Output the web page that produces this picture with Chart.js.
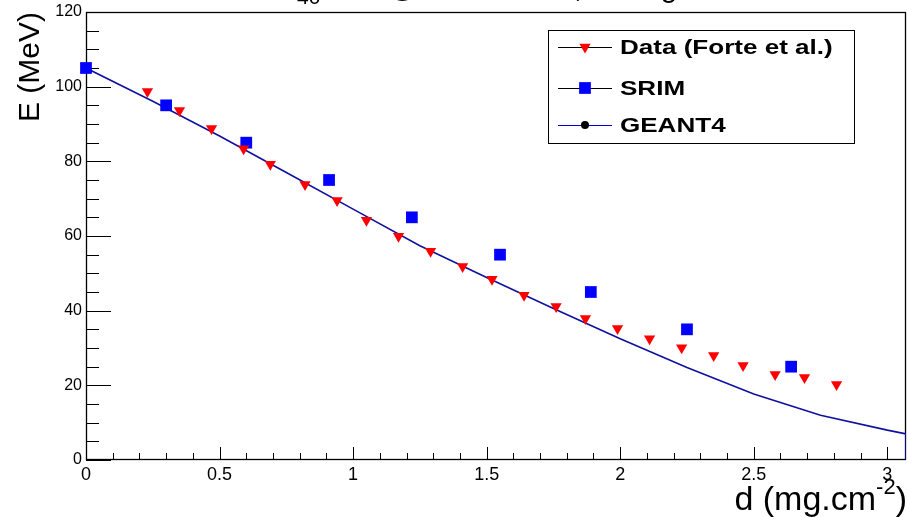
<!DOCTYPE html>
<html>
<head>
<meta charset="utf-8">
<script src="https://cdn.jsdelivr.net/npm/chart.js@4/dist/chart.umd.min.js"></script>
<style>
  html, body { margin: 0; padding: 0; background: #fff; }
</style>
</head>
<body>
<canvas id="c" width="908" height="517"></canvas>
<script>
const seriesNames = ['Data (Forte et al.)', 'SRIM', 'GEANT4']

// measured points (d in mg/cm2, E in MeV)
const dataD = [0.23, 0.35, 0.47, 0.59, 0.69, 0.82, 0.94, 1.05, 1.17, 1.29, 1.41, 1.52,
  1.64, 1.76, 1.87, 1.99, 2.11, 2.23, 2.35, 2.46, 2.58, 2.69, 2.81]
const dataE = [98.7, 93.6, 88.8, 83.4, 79.2, 73.8, 69.5, 64.2, 59.9, 55.9, 51.8, 48.4,
  44.1, 41.1, 37.9, 35.2, 32.5, 30.1, 28.0, 25.3, 22.9, 22.1, 20.2]

const srimD = [0, 0.30, 0.60, 0.91, 1.22, 1.55, 1.89, 2.25, 2.64]
const srimE = [105, 95, 85, 75, 65, 55, 45, 35, 25]

const geantD = [0, 0.25, 0.5, 0.75, 1.0, 1.25, 1.5, 1.75, 2.0, 2.25, 2.5, 2.75, 3.0, 3.07, 3.07]
const geantE = [105, 96.1, 86.8, 77.0, 67.2, 57.4, 48.9, 40.6, 32.5, 24.8, 17.7, 12.0, 8.0, 7.0, 0]

const xTicks = [0, 0.5, 1, 1.5, 2, 2.5, 3]
const yTicks = [0, 20, 40, 60, 80, 100, 120]
const xMinor = 0.1
const yMinor = 5

const FONT = 'Liberation Sans, Arial, sans-serif'
Chart.defaults.font.family = FONT
Chart.defaults.color = '#000'

const toPoints = (xs, ys) => xs.map((x, i) => ({ x: x, y: ys[i] }))

// ROOT style frame with ticks pointing inwards
const frame = {
  id: 'frame',
  beforeDatasetsDraw(chart) {
    const { ctx, chartArea: a, scales: { x, y } } = chart
    ctx.save()
    ctx.strokeStyle = '#000'
    ctx.lineWidth = 1
    ctx.beginPath()
    const xr = Math.round((xTicks[1] - xTicks[0]) / xMinor)
    for (let i = 0; i * xMinor <= x.max + 1e-9; i++) {
      const px = Math.round(x.getPixelForValue(i * xMinor)) + 0.5
      ctx.moveTo(px, a.bottom)
      ctx.lineTo(px, a.bottom - (i % xr === 0 ? 13 : 7))
    }
    const yr = Math.round((yTicks[1] - yTicks[0]) / yMinor)
    for (let i = 0; i * yMinor <= y.max + 1e-9; i++) {
      const py = Math.round(y.getPixelForValue(i * yMinor)) + 0.5
      ctx.moveTo(a.left, py)
      ctx.lineTo(a.left + (i % yr === 0 ? 25 : 13), py)
    }
    ctx.stroke()
    ctx.lineWidth = 1.3
    ctx.strokeRect(a.left + 0.5, a.top + 0.5, a.right - a.left - 1, a.bottom - a.top - 1)
    ctx.restore()
  },
}

const texts = {
  id: 'texts',
  afterDraw(chart) {
    const { ctx, chartArea: a } = chart
    ctx.save()
    ctx.fillStyle = '#000'
    ctx.textBaseline = 'alphabetic'

    // title, mostly above the visible area
    ctx.font = '21px ' + FONT
    ctx.fillText('40', 297, 4)
    ctx.font = '30px ' + FONT
    ctx.fillText('Ar', 324, -3)
    ctx.fillText('@ 105 MeV', 388, -3)
    ctx.fillText(', Al target', 574, -3)

    // x axis title with superscript
    const big = '34px ' + FONT
    const small = '22px ' + FONT
    ctx.font = big
    const w1 = ctx.measureText('d (mg.cm').width
    const w3 = ctx.measureText(')').width
    ctx.font = small
    const w2 = ctx.measureText('-2').width
    const x0 = a.right + 1 - (w1 + w2 + w3)
    const base = 510
    ctx.font = big
    ctx.fillText('d (mg.cm', x0, base)
    ctx.font = small
    ctx.fillText('-2', x0 + w1, base - 16)
    ctx.font = big
    ctx.fillText(')', x0 + w1 + w2, base)

    // legend box
    const L = { x: 548, y: 30, w: 306, h: 113 }
    ctx.fillStyle = '#fff'
    ctx.fillRect(L.x, L.y, L.w, L.h)
    ctx.strokeStyle = '#000'
    ctx.lineWidth = 1
    ctx.strokeRect(L.x + 0.5, L.y + 0.5, L.w, L.h)
    const rows = [47, 88, 125]
    chart.data.datasets.forEach((ds, i) => {
      const ry = rows[i]
      ctx.strokeStyle = i === 2 ? '#0000c8' : '#000'
      ctx.lineWidth = 1
      ctx.beginPath()
      ctx.moveTo(558, ry + 0.5)
      ctx.lineTo(612, ry + 0.5)
      ctx.stroke()
      const marker = i === 2
        ? { pointStyle: 'circle', radius: 4, rotation: 0, borderWidth: 0 }
        : { pointStyle: ds.pointStyle, radius: ds.pointRadius, rotation: ds.rotation || 0, borderWidth: 0 }
      ctx.fillStyle = i === 2 ? '#000' : ds.backgroundColor
      ctx.strokeStyle = ctx.fillStyle
      Chart.helpers.drawPoint(ctx, marker, 585, ry)
      ctx.save()
      ctx.fillStyle = '#000'
      ctx.font = 'bold 21px ' + FONT
      ctx.textBaseline = 'middle'
      ctx.translate(620, ry + 1)
      ctx.scale(1.24, 1)
      ctx.fillText(ds.label, 0, 0)
      ctx.restore()
    })
    ctx.restore()
  },
}

new Chart(document.getElementById('c'), {
  type: 'scatter',
  data: {
    datasets: [
      {
        label: seriesNames[0],
        data: toPoints(dataD, dataE),
        pointStyle: 'triangle',
        rotation: 180,
        pointRadius: 6.5,
        borderWidth: 0,
        backgroundColor: '#ff0000',
        borderColor: '#ff0000',
        showLine: false,
      },
      {
        label: seriesNames[1],
        data: toPoints(srimD, srimE),
        pointStyle: 'rect',
        pointRadius: 8.3,
        borderWidth: 0,
        backgroundColor: '#0000ff',
        borderColor: '#0000ff',
        showLine: false,
        clip: false,
      },
      {
        label: seriesNames[2],
        data: toPoints(geantD, geantE),
        showLine: true,
        pointRadius: 0,
        borderWidth: 1.6,
        borderColor: '#1010a0',
        backgroundColor: '#1010a0',
        tension: 0,
      },
    ],
  },
  options: {
    responsive: false,
    animation: false,
    devicePixelRatio: 1,
    layout: { autoPadding: false, padding: { top: 12, right: 2, left: 0, bottom: 0 } },
    plugins: {
      legend: { display: false },
      tooltip: { enabled: false },
    },
    scales: {
      x: {
        type: 'linear',
        min: 0,
        max: 3.07,
        afterFit(s) {
          s.height = 57
          s.paddingLeft = 0
          s.paddingRight = 0
        },
        afterBuildTicks(s) { s.ticks = xTicks.map((v) => ({ value: v })) },
        grid: { display: false, drawTicks: false },
        border: { display: false },
        ticks: {
          color: '#000',
          font: { size: 18 },
          padding: 4,
          maxRotation: 0,
          callback: (v) => String(v),
        },
      },
      y: {
        type: 'linear',
        min: 0,
        max: 120,
        afterFit(s) {
          s.width = 86
          s.paddingTop = 0
          s.paddingBottom = 0
        },
        afterBuildTicks(s) { s.ticks = yTicks.map((v) => ({ value: v })) },
        grid: { display: false, drawTicks: false },
        border: { display: false },
        ticks: { color: '#000', font: { size: 16 }, padding: 4, callback: (v) => String(v) },
        title: {
          display: true,
          text: 'E (MeV)',
          align: 'end',
          color: '#000',
          font: { size: 30 },
          padding: { top: 13, bottom: 0 },
        },
      },
    },
  },
  plugins: [frame, texts],
})
</script>
</body>
</html>
